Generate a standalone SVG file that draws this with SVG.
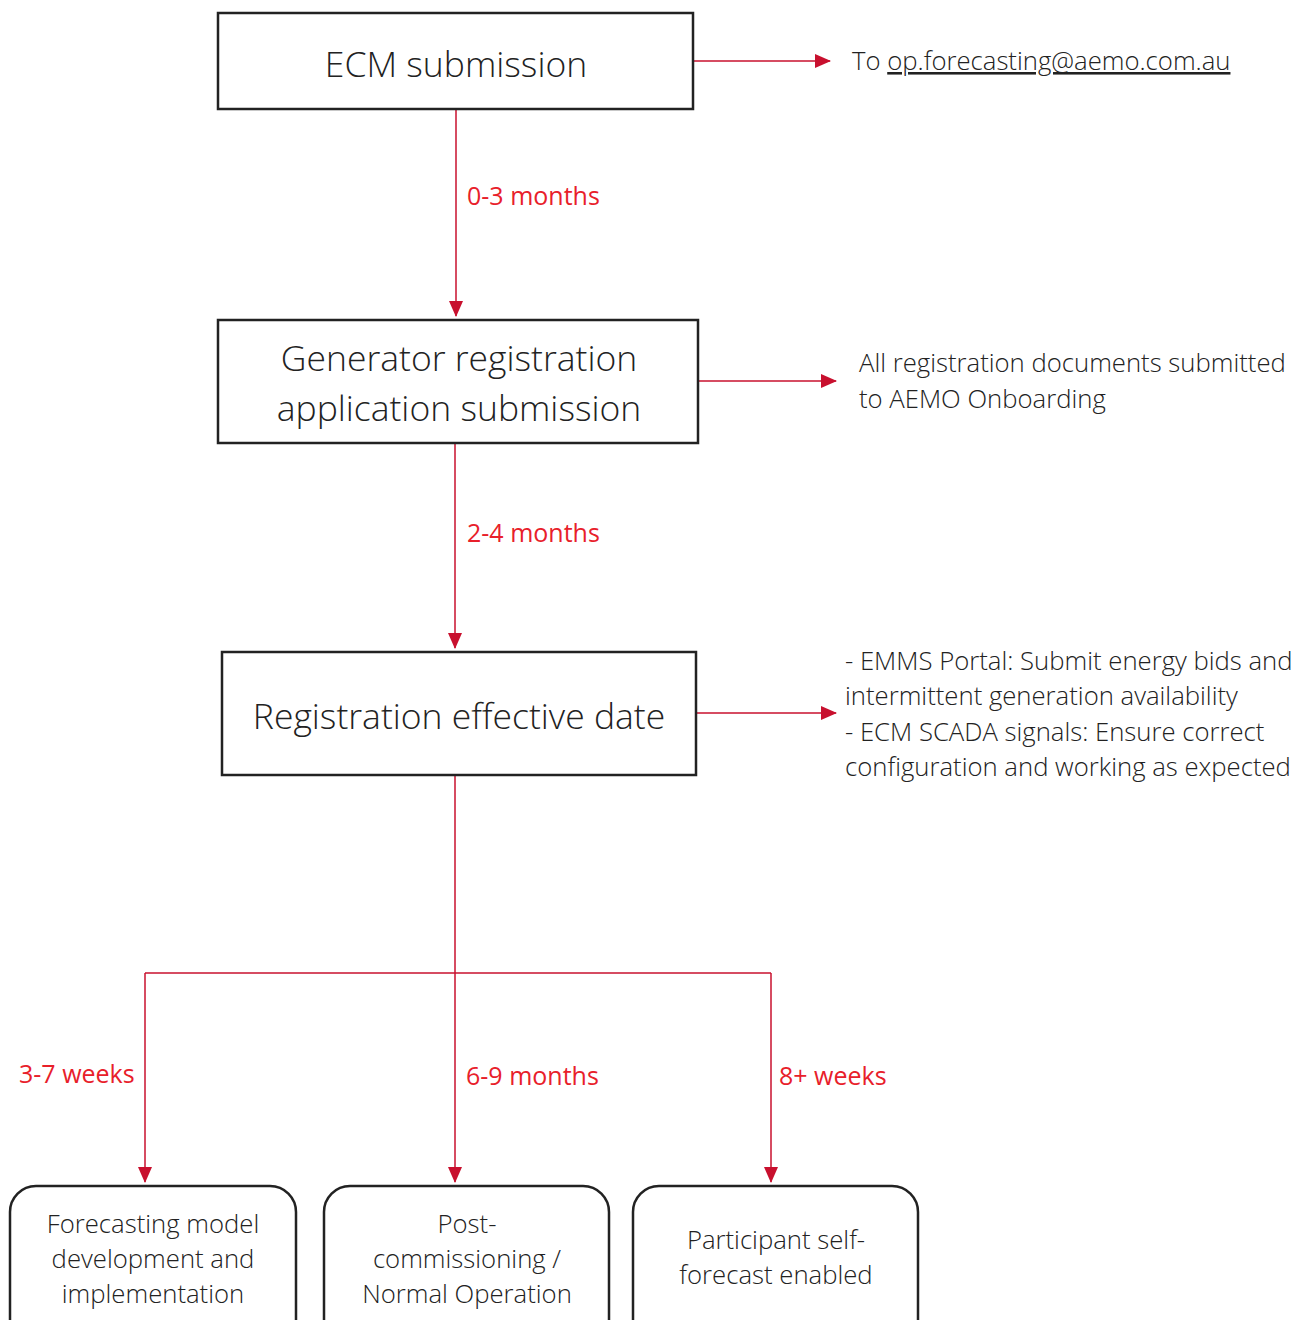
<svg xmlns="http://www.w3.org/2000/svg" width="1315" height="1320" viewBox="0 0 1315 1320">
<defs>
<marker id="arrB" markerWidth="16" markerHeight="16" refX="15" refY="8" orient="auto" markerUnits="userSpaceOnUse" viewBox="0 0 16 16">
<path d="M0,1 L16,8 L0,15 z" fill="#C8102E"/>
</marker>
<style>
.box{fill:#fff;stroke:#222;stroke-width:2.5}
.rbox{fill:#fff;stroke:#222;stroke-width:2.5}
.t{font-family:"Open Sans","Noto Sans","Liberation Sans",sans-serif;font-weight:300;fill:#222}
.big{font-size:35.5px}
.mid{font-size:25.7px}
.lbl{font-family:"Open Sans","Noto Sans","Liberation Sans",sans-serif;font-weight:400;font-size:25px;fill:#E8202A}
.c{stroke:#C8102E;stroke-width:1.5;fill:none}
</style>
</defs>
<rect width="1315" height="1320" fill="#fff"/>
<g id="connectors">
<line class="c" x1="693" y1="61" x2="830" y2="61" marker-end="url(#arrB)"/>
<line class="c" x1="456" y1="109" x2="456" y2="316" marker-end="url(#arrB)"/>
<line class="c" x1="698" y1="381" x2="836" y2="381" marker-end="url(#arrB)"/>
<line class="c" x1="455" y1="443" x2="455" y2="648" marker-end="url(#arrB)"/>
<line class="c" x1="696" y1="713" x2="836" y2="713" marker-end="url(#arrB)"/>
<line class="c" x1="455" y1="775" x2="455" y2="1182" marker-end="url(#arrB)"/>
<line class="c" x1="145" y1="973" x2="771" y2="973"/>
<line class="c" x1="145" y1="973" x2="145" y2="1182" marker-end="url(#arrB)"/>
<line class="c" x1="771" y1="973" x2="771" y2="1182" marker-end="url(#arrB)"/>
<text class="lbl" x="467" y="205">0-3 months</text>
<text class="lbl" x="467" y="542">2-4 months</text>
<text class="lbl" x="19" y="1083">3-7 weeks</text>
<text class="lbl" x="466" y="1085">6-9 months</text>
<text class="lbl" x="779" y="1085">8+ weeks</text>
</g>
<g id="n-ecm">
<rect class="box" x="218" y="13" width="475" height="96"/>
<text class="t big" x="456" y="77" text-anchor="middle">ECM submission</text>
</g>
<g id="n-ecm-note">
<text class="t mid" x="852" y="70">To <tspan text-decoration="underline">op.forecasting@aemo.com.au</tspan></text>
</g>
<g id="n-gen">
<rect class="box" x="218" y="320" width="480" height="123"/>
<text class="t big" x="459" y="371" text-anchor="middle">Generator registration</text>
<text class="t big" x="459" y="421" text-anchor="middle">application submission</text>
</g>
<g id="n-gen-note">
<text class="t mid" x="859" y="372">All registration documents submitted</text>
<text class="t mid" x="859" y="408">to AEMO Onboarding</text>
</g>
<g id="n-reg">
<rect class="box" x="222" y="652" width="474" height="123"/>
<text class="t big" x="459" y="729" text-anchor="middle">Registration effective date</text>
</g>
<g id="n-reg-note">
<text class="t mid" x="845" y="670">- EMMS Portal: Submit energy bids and</text>
<text class="t mid" x="845" y="705">intermittent generation availability</text>
<text class="t mid" x="845" y="741">- ECM SCADA signals: Ensure correct</text>
<text class="t mid" x="845" y="776">configuration and working as expected</text>
</g>
<g id="n-fc">
<rect class="rbox" x="10" y="1186" width="286" height="160" rx="26"/>
<text class="t mid" x="153" y="1233" text-anchor="middle">Forecasting model</text>
<text class="t mid" x="153" y="1268" text-anchor="middle">development and</text>
<text class="t mid" x="153" y="1303" text-anchor="middle">implementation</text>
</g>
<g id="n-post">
<rect class="rbox" x="324" y="1186" width="285" height="160" rx="26"/>
<text class="t mid" x="467" y="1233" text-anchor="middle">Post-</text>
<text class="t mid" x="467" y="1268" text-anchor="middle">commissioning /</text>
<text class="t mid" x="467" y="1303" text-anchor="middle">Normal Operation</text>
</g>
<g id="n-self">
<rect class="rbox" x="633" y="1186" width="285" height="160" rx="26"/>
<text class="t mid" x="776" y="1249" text-anchor="middle">Participant self-</text>
<text class="t mid" x="776" y="1284" text-anchor="middle">forecast enabled</text>
</g>
</svg>
